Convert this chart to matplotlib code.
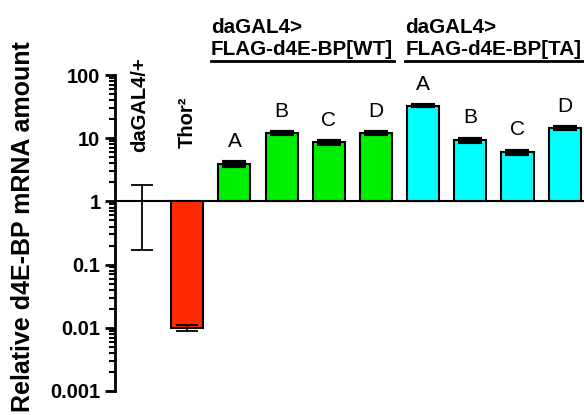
import numpy as np
import matplotlib.pyplot as plt
from matplotlib.ticker import LogLocator, FixedLocator, FixedFormatter

plt.rcParams['font.family'] = ['Liberation Sans', 'DejaVu Sans']

# ---------- data ----------
groups = ["daGAL4/+", "Thor²", "A", "B", "C", "D", "A", "B", "C", "D"]
values = [1.0, 0.010, 3.9, 12.2, 8.6, 12.0, 33.0, 9.3, 6.0, 14.5]
err_lo = [0.83, 0.001, 0.3, 0.5, 0.5, 0.5, 0.5, 0.6, 0.4, 0.5]
err_hi = [0.80, 0.001, 0.3, 0.5, 0.5, 0.5, 0.5, 0.6, 0.4, 0.5]
colors = ["white", "#ff2a00", "#00ee00", "#00ee00", "#00ee00", "#00ee00",
          "#00ffff", "#00ffff", "#00ffff", "#00ffff"]
yticks = [0.001, 0.01, 0.1, 1, 10, 100]
ytick_labels = ["0.001", "0.01", "0.1", "1", "10", "100"]
group_titles = ["daGAL4>\nFLAG-d4E-BP[WT]", "daGAL4>\nFLAG-d4E-BP[TA]"]

fig = plt.figure(figsize=(5.84, 4.15), dpi=100)
ax = fig.add_axes([0.197, 0.058, 0.803, 0.761])
ax.set_yscale("log")
ax.set_ylim(0.001, 100)
ax.set_xlim(-0.53, 9.41)

x = np.arange(len(values))
vals = np.array(values)

# ---------- bars (from baseline 1) ----------
for i in range(1, len(vals)):
    ax.bar(x[i], vals[i] - 1, bottom=1, width=0.68, color=colors[i],
           edgecolor="black", linewidth=1.5, zorder=2)

# error bars
for i in range(len(vals)):
    if vals[i] <= 1:
        ax.errorbar(x[i] + (0.05 if i == 0 else 0), vals[i],
                    yerr=[[err_lo[i]], [err_hi[i]]], fmt="none",
                    ecolor="black", elinewidth=1.3, capsize=8, capthick=1.3, zorder=3)
    else:
        ax.errorbar(x[i], vals[i], yerr=[[err_lo[i]], [err_hi[i]]], fmt="none",
                    ecolor="black", elinewidth=1.3, capsize=8.5, capthick=3, zorder=3)

ax.axhline(1, color="black", lw=1.5, zorder=1)

# ---------- axes style ----------
for s in ["top", "right", "bottom"]:
    ax.spines[s].set_visible(False)
ax.spines["left"].set_linewidth(2)
ax.set_xticks([])
ax.yaxis.set_major_locator(FixedLocator(yticks))
ax.yaxis.set_major_formatter(FixedFormatter(ytick_labels))
ax.yaxis.set_minor_locator(LogLocator(base=10, subs=np.arange(2, 10)))
ax.tick_params(axis="y", which="major", length=7, width=2, labelsize=14.5)
ax.tick_params(axis="y", which="minor", length=4, width=1.5)
for lab in ax.get_yticklabels():
    lab.set_fontweight("bold")

fig.text(0.039, 0.455, "Relative d4E-BP mRNA amount", rotation=90,
         ha="center", va="center", fontsize=18, fontweight="bold")

# ---------- labels above bars ----------
ax.text(x[0], 6.0, groups[0], rotation=90, ha="center", va="bottom",
        fontsize=14.5, fontweight="bold")
ax.text(x[1], 7.0, groups[1], rotation=90, ha="center", va="bottom",
        fontsize=14.5, fontweight="bold")
for i in range(2, len(vals)):
    ax.text(x[i], (vals[i] + err_hi[i]) * 1.5, groups[i], ha="center",
            va="bottom", fontsize=15)

# group titles with underline
spans = [(1.50, 5.38), (5.62, 9.6)]
for k, (a, b) in enumerate(spans):
    ax.text(a, 208, group_titles[k], ha="left", va="baseline",
            fontsize=14.9, fontweight="bold", linespacing=1.2, clip_on=False)
    ax.plot([a, b], [167, 167], color="black", lw=2, clip_on=False)

fig.savefig("out.png", dpi=100)
